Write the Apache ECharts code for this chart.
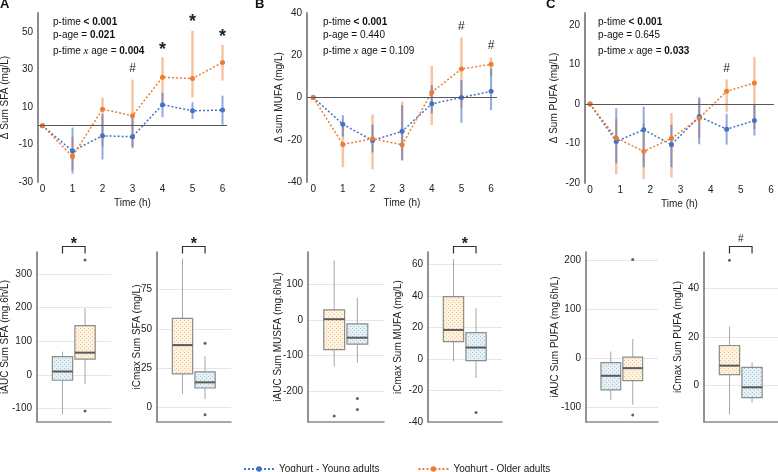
<!DOCTYPE html>
<html>
<head>
<meta charset="utf-8">
<script src="https://cdn.jsdelivr.net/npm/echarts@6.0.0/dist/echarts.min.js"></script>
<style>
html, body { margin: 0; padding: 0; background: #fff; }
#chart { width: 778px; height: 472px; }
</style>
</head>
<body>
<div id="chart"></div>
<script>
var FONT = '"Liberation Sans", Arial, Helvetica, sans-serif';
var BLUE = '#4472c4', ORANGE = '#ed7d31';
var YOUNG = 'Yoghurt - Young adults', OLD = 'Yoghurt - Older adults';

// time axes
var timeTicks = [0, 1, 2, 3, 4, 5, 6];
var timesAB = [0, 1, 2, 3, 4, 5, 6];
var timesC = [0, 0.87, 1.78, 2.7, 3.62, 4.53, 5.45];

// A - sum SFA
var sfaYoung = [0, -13.5, -5.4, -5.9, 11.2, 7.9, 8.3];
var sfaYoungLo = [0, -25.5, -18, -11.5, 4.5, 3.5, 0.5];
var sfaYoungHi = [0, -1, 6, 5, 17.5, 12.5, 16];
var sfaOld = [0, -16.4, 8.8, 5.3, 25.8, 25.1, 33.7];
var sfaOldLo = [0, -23.7, -11, -12, 12.8, 15, 24];
var sfaOldHi = [0, -5.8, 15, 24.5, 36.5, 50.5, 43];
var sfaTicks = [-30, -10, 10, 30, 50];
var sfaMarks = [[3, 30.6, '#'], [4, 42.4, '*'], [5, 57.2, '*'], [6, 49.2, '*']];

// B - sum MUFA
var mufaYoung = [0, -12.7, -20.3, -16, -3, 0, 2.9];
var mufaYoungLo = [0, -18.5, -26, -29.5, -7.6, -12, -6];
var mufaYoungHi = [0, -8.4, -12.9, -3.6, 5.9, 8.3, 13.8];
var mufaOld = [0, -22.2, -19.5, -22.4, 2.5, 13.5, 15.7];
var mufaOldLo = [0, -33, -34, -30, -13, -5, 10];
var mufaOldHi = [0, -13.7, -8, -2, 15, 28.4, 19];
var mufaTicks = [-40, -20, 0, 20, 40];
var mufaMarks = [[5, 33.6, '#'], [6, 24.5, '#']];

// C - sum PUFA
var pufaYoung = [0, -9.5, -6.5, -10.3, -3.2, -6.4, -4.2];
var pufaYoungLo = [0, -15, -16, -16, -10.2, -10.3, -8];
var pufaYoungHi = [0, -1.1, -0.7, -5.3, 1.7, -2.5, 0];
var pufaOld = [0, -8.6, -12, -8.7, -3.6, 3.2, 5.3];
var pufaOldLo = [0, -17.8, -19, -18.6, -8.5, -2.1, -6.4];
var pufaOldHi = [0, -3.8, -4.9, -2.3, 1.3, 6.2, 11.9];
var pufaTicks = [-20, -10, 0, 10, 20];
var pufaMarks = [[4.53, 9, '#']];

// box plots: [min, Q1, median, Q3, max]
var iaucSfaYoung = [-117, -16, 10, 54, 69];
var iaucSfaOld = [-27, 47, 66, 146, 198];
var iaucSfaOldOut = [341, -107];
var iaucSfaTicks = [-100, 0, 100, 200, 300];

var icmaxSfaOld = [8.5, 21.2, 39.6, 56.7, 94.7];
var icmaxSfaYoung = [5.1, 12.2, 15.8, 22.5, 32.5];
var icmaxSfaYoungOut = [40.7, -4.9];
var icmaxSfaTicks = [0, 25, 50, 75];

var iaucMufaOld = [-131, -83.7, 2, 28, 167];
var iaucMufaYoung = [-121, -68, -50, -11, 62];
var iaucMufaOldOut = [-270];
var iaucMufaYoungOut = [-221, -252];
var iaucMufaTicks = [-200, -100, 0, 100];

var icmaxMufaOld = [-1.5, 11.1, 18.5, 39.6, 63.5];
var icmaxMufaYoung = [-12, -1, 7.3, 16.8, 32.3];
var icmaxMufaYoungOut = [-34];
var icmaxMufaTicks = [-40, -20, 0, 20, 40, 60];

var iaucPufaYoung = [-85, -64.7, -36, -9, 13.5];
var iaucPufaOld = [-95, -45.6, -20.4, 2, 38.8];
var iaucPufaOldOut = [200.6, -115.7];
var iaucPufaTicks = [-100, 0, 100, 200];

var icmaxPufaOld = [-11.9, 4.5, 8.2, 16.5, 24.3];
var icmaxPufaYoung = [-7.1, -5, -0.7, 7.5, 9.5];
var icmaxPufaOldOut = [51.6];
var icmaxPufaTicks = [0, 20, 40];

function makePattern(bg, dot) {
    var c = document.createElement('canvas');
    c.width = 4; c.height = 4;
    var ctx = c.getContext('2d');
    ctx.fillStyle = bg; ctx.fillRect(0, 0, 4, 4);
    ctx.fillStyle = dot; ctx.fillRect(0, 0, 1, 1); ctx.fillRect(2, 2, 1, 1);
    return { image: c, repeat: 'repeat' };
}
var patterns = [makePattern('#e4eff6', '#a9c8da'), makePattern('#fdf2e0', '#f2c48c')];

function pairs(xs, ys) {
    return xs.map(function (x, i) { return [x, ys[i]]; });
}
function triples(xs, lo, hi) {
    return xs.map(function (x, i) { return [x, lo[i], hi[i]]; });
}

function renderErr(color, width) {
    return function (params, api) {
        var p1 = api.coord([api.value(0), api.value(1)]);
        var p2 = api.coord([api.value(0), api.value(2)]);
        return { type: 'line', shape: { x1: p1[0], y1: p1[1], x2: p2[0], y2: p2[1] },
            style: { stroke: color, lineWidth: width } };
    };
}

function renderBox(params, api) {
    var x = api.value(0);
    var lo = api.coord([x, api.value(1)]), q1 = api.coord([x, api.value(2)]);
    var md = api.coord([x, api.value(3)]), q3 = api.coord([x, api.value(4)]);
    var hi = api.coord([x, api.value(5)]);
    var w = api.size([0.9, 0])[0];
    var cx = lo[0];
    var wl = { stroke: '#a6a6a6', lineWidth: 1 };
    return { type: 'group', children: [
        { type: 'line', shape: { x1: cx, y1: lo[1], x2: cx, y2: q1[1] }, style: wl },
        { type: 'line', shape: { x1: cx, y1: q3[1], x2: cx, y2: hi[1] }, style: wl },
        { type: 'rect', shape: { x: cx - w / 2, y: q3[1], width: w, height: q1[1] - q3[1] },
            style: { fill: patterns[api.value(6)], stroke: '#8c8c8c', lineWidth: 1.2 } },
        { type: 'line', shape: { x1: cx - w / 2, y1: md[1], x2: cx + w / 2, y2: md[1] },
            style: { stroke: '#5a5a5a', lineWidth: 2 } }
    ] };
}

function renderBracket(mark) {
    return function (params, api) {
        var a = api.coord([0, 0]), b = api.coord([1, 0]);
        var y = params.coordSys.y - 5.5;
        var star = mark === '*';
        return { type: 'group', children: [
            { type: 'polyline', shape: { points: [[a[0], y + 7], [a[0], y], [b[0], y], [b[0], y + 7]] },
                style: { stroke: '#333', lineWidth: 1.2, fill: null } },
            { type: 'text', x: (a[0] + b[0]) / 2, y: star ? y - 1.5 : y - 7,
                style: { text: mark, align: 'center', verticalAlign: 'middle', fontFamily: FONT,
                    fontSize: star ? 16 : 10, fontWeight: star ? 'bold' : 'normal', fill: '#222' } }
        ] };
    };
}

// annotation marks (* / #) placed through the axes
function renderMark(params, api) {
    var p = api.coord([api.value(0), api.value(1)]);
    var m = api.value(2) === 1 ? '*' : '#';
    var star = m === '*';
    return { type: 'text', x: p[0], y: p[1] + (star ? 4 : 0),
        style: { text: m, align: 'center', verticalAlign: 'middle', fontFamily: FONT,
            fontSize: star ? 18 : 12, fontWeight: star ? 'bold' : 'normal', fill: '#222' } };
}

var grids = [
    { left: 38, top: 13, width: 189, height: 169 },
    { left: 307, top: 13, width: 190, height: 169 },
    { left: 585, top: 13, width: 189, height: 170 },
    { left: 37, top: 252, width: 74, height: 170 },
    { left: 157, top: 252, width: 74, height: 170 },
    { left: 308, top: 252, width: 76, height: 170 },
    { left: 428, top: 252, width: 74, height: 170 },
    { left: 586, top: 252, width: 72, height: 170 },
    { left: 704, top: 252, width: 74, height: 170 }
];
grids.forEach(function (g) { g.outerBoundsMode = 'none'; g.containLabel = false; });

var labelStyle = { fontSize: 10, color: '#222', fontFamily: FONT };

function topX(g, min, max) {
    return { type: 'value', gridIndex: g, min: min, max: max, name: 'Time (h)', nameLocation: 'middle',
        nameGap: 16, nameTextStyle: labelStyle, nameMoveOverlap: false,
        axisLine: { show: false, onZero: false }, axisTick: { show: false, customValues: timeTicks },
        axisLabel: Object.assign({ customValues: timeTicks, margin: 2 }, labelStyle),
        splitLine: { show: false } };
}
function topY(g, min, max, ticks, name, gap) {
    return { type: 'value', gridIndex: g, min: min, max: max, name: name, nameLocation: 'middle',
        nameGap: gap, nameTextStyle: labelStyle, nameMoveOverlap: false,
        axisLine: { show: true, onZero: false, lineStyle: { color: '#8c8c8c', width: 2 } },
        axisTick: { show: false, customValues: ticks },
        axisLabel: Object.assign({ customValues: ticks, margin: 5 }, labelStyle),
        splitLine: { show: false } };
}
function boxX(g) {
    return { type: 'value', gridIndex: g, min: -1.13, max: 2.15,
        axisLine: { show: true, onZero: false, lineStyle: { color: '#8c8c8c', width: 1.5 } },
        axisTick: { show: false }, axisLabel: { show: false }, splitLine: { show: false } };
}
function boxY(g, min, max, ticks, name, gap) {
    return { type: 'value', gridIndex: g, min: min, max: max, name: name, nameLocation: 'middle',
        nameGap: gap, nameTextStyle: labelStyle, nameMoveOverlap: false,
        axisLine: { show: true, onZero: false, lineStyle: { color: '#6e6e6e', width: 1.5 } },
        axisTick: { show: false, customValues: ticks },
        axisLabel: Object.assign({ customValues: ticks, margin: 5 }, labelStyle),
        splitLine: { show: true, lineStyle: { color: '#e6e6e6', width: 1 } } };
}

function topSeries(g, xs, young, yLo, yHi, old, oLo, oHi, marks) {
    var lineBase = { type: 'line', xAxisIndex: g, yAxisIndex: g, symbol: 'circle', symbolSize: 5, z: 3 };
    return [
        { type: 'custom', xAxisIndex: g, yAxisIndex: g, z: 1, encode: { x: 0, y: [1, 2] },
            renderItem: renderErr('rgba(237,125,49,0.45)', 2.5), data: triples(xs, oLo, oHi) },
        { type: 'custom', xAxisIndex: g, yAxisIndex: g, z: 2, encode: { x: 0, y: [1, 2] },
            renderItem: renderErr('rgba(68,114,196,0.6)', 2), data: triples(xs, yLo, yHi) },
        Object.assign({}, lineBase, { name: YOUNG, data: pairs(xs, young),
            itemStyle: { color: BLUE }, lineStyle: { color: BLUE, width: 1.5, type: [2, 2] },
            markLine: { silent: true, symbol: 'none', label: { show: false },
                lineStyle: { color: '#595959', width: 1.2, type: 'solid' }, data: [{ yAxis: 0 }] } }),
        Object.assign({}, lineBase, { name: OLD, data: pairs(xs, old),
            itemStyle: { color: ORANGE }, lineStyle: { color: ORANGE, width: 1.5, type: [2, 2] } }),
        { type: 'custom', xAxisIndex: g, yAxisIndex: g, z: 4, silent: true, clip: false,
            encode: { x: 0, y: 1 }, renderItem: renderMark,
            data: marks.map(function (m) { return [m[0], m[1], m[2] === '*' ? 1 : 0]; }) }
    ];
}

function boxSeries(g, stats, groups, outliers, mark) {
    var data = stats.map(function (s, i) { return [i].concat(s).concat([groups[i]]); });
    var out = [];
    outliers.forEach(function (list, i) {
        list.forEach(function (v) { out.push([i, v]); });
    });
    var list = [
        { type: 'custom', xAxisIndex: g, yAxisIndex: g, z: 2, encode: { x: 0, y: [1, 2, 3, 4, 5] },
            renderItem: renderBox, data: data },
        { type: 'scatter', xAxisIndex: g, yAxisIndex: g, z: 3, symbolSize: 3,
            itemStyle: { color: '#3a3a3a' }, data: out }
    ];
    if (mark) {
        list.push({ type: 'custom', xAxisIndex: g, yAxisIndex: g, z: 3, clip: false,
            renderItem: renderBracket(mark), data: [[0, 0]] });
    }
    return list;
}

function pText(left, age, inter, ageBold, interBold) {
    var rich = { b: { fontWeight: 'bold', fontSize: 10, fontFamily: FONT },
        i: { fontStyle: 'italic', fontSize: 11, fontFamily: '"Liberation Serif", serif' } };
    function row(y, text) {
        return { type: 'text', left: left, top: y, style: { text: text, rich: rich, fontSize: 10,
            fontFamily: FONT, fill: '#111' } };
    }
    return [
        row(17, 'p-time {b|< 0.001}'),
        row(30, 'p-age = ' + (ageBold ? '{b|' + age + '}' : age)),
        row(45.5, 'p-time {i|x} age = ' + (interBold ? '{b|' + inter + '}' : inter))
    ];
}
function letter(left, t) {
    return { type: 'text', left: left, top: -2, style: { text: t, fontSize: 13, fontWeight: 'bold',
        fontFamily: FONT, fill: '#111' } };
}

var series = [].concat(
    topSeries(0, timesAB, sfaYoung, sfaYoungLo, sfaYoungHi, sfaOld, sfaOldLo, sfaOldHi, sfaMarks),
    topSeries(1, timesAB, mufaYoung, mufaYoungLo, mufaYoungHi, mufaOld, mufaOldLo, mufaOldHi, mufaMarks),
    topSeries(2, timesC, pufaYoung, pufaYoungLo, pufaYoungHi, pufaOld, pufaOldLo, pufaOldHi, pufaMarks),
    boxSeries(3, [iaucSfaYoung, iaucSfaOld], [0, 1], [[], iaucSfaOldOut], '*'),
    boxSeries(4, [icmaxSfaOld, icmaxSfaYoung], [1, 0], [[], icmaxSfaYoungOut], '*'),
    boxSeries(5, [iaucMufaOld, iaucMufaYoung], [1, 0], [iaucMufaOldOut, iaucMufaYoungOut], ''),
    boxSeries(6, [icmaxMufaOld, icmaxMufaYoung], [1, 0], [[], icmaxMufaYoungOut], '*'),
    boxSeries(7, [iaucPufaYoung, iaucPufaOld], [0, 1], [[], iaucPufaOldOut], ''),
    boxSeries(8, [icmaxPufaOld, icmaxPufaYoung], [1, 0], [icmaxPufaOldOut, []], '#')
);

var chart = echarts.init(document.getElementById('chart'), null, { renderer: 'canvas' });
chart.setOption({
    animation: false,
    backgroundColor: '#fff',
    textStyle: { fontFamily: FONT },
    grid: grids,
    xAxis: [
        topX(0, -0.15, 6.15), topX(1, -0.21, 6.2), topX(2, -0.166, 6.1),
        boxX(3), boxX(4), boxX(5), boxX(6), boxX(7), boxX(8)
    ],
    yAxis: [
        topY(0, -30, 60, sfaTicks, '\u0394 Sum SFA (mg/L)', 28),
        topY(1, -40, 40, mufaTicks, '\u0394 sum MUFA (mg/L)', 23),
        topY(2, -20, 23, pufaTicks, '\u0394 Sum PUFA (mg/L)', 26),
        boxY(3, -140, 365, iaucSfaTicks, 'iAUC Sum SFA (mg.6h/L)', 27),
        boxY(4, -9.5, 99, icmaxSfaTicks, 'iCmax Sum SFA (mg/L)', 15),
        boxY(5, -287, 191, iaucMufaTicks, 'iAUC Sum MUSFA (mg.6h/L)', 25),
        boxY(6, -40, 68, icmaxMufaTicks, 'iCmax Sum MUFA (mg/L)', 25),
        boxY(7, -130, 216, iaucPufaTicks, 'iAUC Sum PUFA (mg.6h/L)', 26),
        boxY(8, -15, 55, icmaxPufaTicks, 'iCmax Sum PUFA (mg/L)', 21)
    ],
    legend: {
        data: [YOUNG, OLD], left: 238, top: 459, itemWidth: 30, itemHeight: 7, itemGap: 38,
        textStyle: labelStyle
    },
    graphic: [].concat(
        [letter(0, 'A'), letter(255, 'B'), letter(546, 'C')],
        pText(53, '0.021', '0.004', true, true),
        pText(323, '0.440', '0.109', false, false),
        pText(598, '0.645', '0.033', false, true)
    ),
    series: series
});
</script>
</body>
</html>
